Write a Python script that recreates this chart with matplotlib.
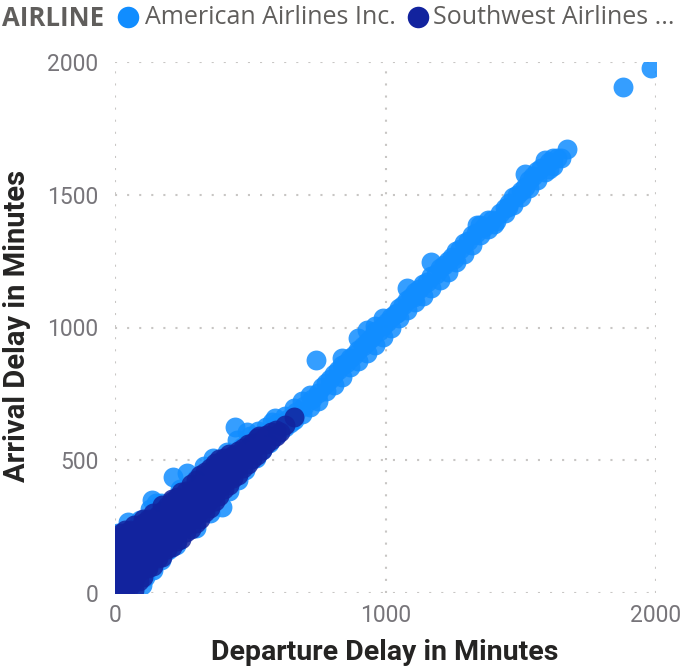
import matplotlib
matplotlib.use("Agg")
import matplotlib.pyplot as plt
from matplotlib.lines import Line2D

# values, each line of dep goes with the same line of arr
aa_dep = [10, 48, 93, 137, 215, 266, 363, 415, 444, 488, 452, 581,
          111, 196, 396, 456, 544, 648, 150, 300, 500,
          100, 140, 170, 225, 300, 350, 420, 480, 520, 570, 600,
          130, 170, 240, 310, 330, 470, 530, 560, 590,
          600, 600, 630, 630, 660, 660, 690, 690, 720, 720, 750, 750,
          780, 780, 810, 810, 840, 840, 840, 870, 870, 900, 900, 900,
          930, 930, 930, 960, 960, 960, 990, 990, 990, 1020, 1020, 1050, 1050,
          1080, 1080, 1080, 1110, 1110, 1140, 1140, 1170, 1170, 1170,
          1200, 1200, 1230, 1230, 1260, 1260, 1290, 1290, 1320, 1320,
          1350, 1350, 1380, 1380, 1410, 1440, 1440, 1470, 1470, 1500, 1500,
          1530, 1530, 1560, 1560, 1590, 1590, 1620, 1620, 1650,
          744, 1044, 1105, 1252, 1340, 1400, 1452, 1515, 1604, 1670, 1878, 1981,
          610, 640, 670, 700, 730, 765, 795, 825, 855, 885, 915, 945, 975,
          1005, 1035, 1065, 1095, 1125, 1155, 1185, 1215, 1245, 1275, 1305,
          1335, 1365, 1395, 1425, 1455, 1485, 1515, 1545, 1575, 1605, 1635]
aa_arr = [225, 267, 275, 351, 438, 453, 509, 532, 626, 608, 577, 645,
          60, 162, 325, 426, 540, 641, 340, 430, 590,
          30, 85, 125, 180, 245, 300, 385, 465, 510, 565, 600,
          315, 340, 390, 440, 480, 550, 610, 625, 660,
          610, 640, 625, 665, 650, 695, 675, 725, 700, 745, 725, 755,
          760, 790, 785, 825, 815, 860, 885, 850, 885, 875, 915, 960,
          905, 945, 990, 935, 985, 1005, 965, 1005, 1035, 1000, 1040, 1035, 1075,
          1065, 1105, 1150, 1095, 1135, 1120, 1165, 1150, 1195, 1245,
          1180, 1225, 1210, 1250, 1245, 1290, 1275, 1320, 1310, 1350,
          1350, 1385, 1370, 1405, 1400, 1430, 1450, 1460, 1490, 1490, 1515,
          1525, 1555, 1555, 1590, 1585, 1630, 1610, 1640, 1640,
          879, 1056, 1113, 1257, 1385, 1389, 1453, 1577, 1596, 1672, 1906, 1977,
          630, 655, 680, 705, 730, 775, 805, 840, 865, 895, 930, 960, 985,
          1020, 1050, 1085, 1115, 1145, 1170, 1200, 1235, 1265, 1295, 1325,
          1355, 1380, 1405, 1430, 1470, 1500, 1530, 1570, 1600, 1625, 1640]

wn_dep = [5, 5, 5, 5, 5, 5, 5,
          38, 38, 38, 38, 38, 38, 38, 38,
          72, 72, 72, 72, 72, 72, 72, 72,
          105, 105, 105, 105, 105, 105, 105, 105,
          140, 140, 140, 140, 140, 140, 140,
          175, 175, 175, 175, 175, 175, 175,
          210, 210, 210, 210, 210, 210, 210,
          245, 245, 245, 245, 245, 245,
          280, 280, 280, 280, 280, 280,
          315, 315, 315, 315, 315, 315,
          350, 350, 350, 350, 350, 350,
          385, 385, 385, 385, 385, 385,
          420, 420, 420, 420, 420,
          455, 455, 455, 455,
          490, 490, 490, 490,
          525, 525, 525,
          560, 560, 595, 595,
          533, 611, 630, 663,
          22, 22, 22, 22, 22, 22, 22,
          55, 55, 55, 55, 55, 55, 55,
          88, 88, 88, 88, 88, 88, 88,
          122, 122, 122, 122, 122, 122, 122,
          158, 158, 158, 158, 158, 158,
          192, 192, 192, 192, 192, 192,
          228, 228, 228, 228, 228, 228,
          262, 262, 262, 262, 262, 262,
          298, 298, 298, 298, 298, 298,
          332, 332, 332, 332, 332, 332,
          368, 368, 368, 368, 368, 368,
          402, 402, 402, 402, 402,
          438, 438, 438, 438,
          472, 472, 472, 472,
          508, 508, 508,
          542, 542, 578, 578]
wn_arr = [0, 35, 70, 105, 140, 175, 210,
          5, 40, 75, 110, 145, 180, 215, 236,
          12, 45, 80, 115, 150, 185, 220, 255,
          60, 92, 128, 160, 195, 230, 262, 278,
          100, 135, 170, 205, 240, 275, 300,
          135, 170, 205, 240, 275, 310, 332,
          175, 205, 240, 275, 310, 345, 355,
          205, 240, 275, 310, 345, 380,
          240, 275, 310, 345, 380, 410,
          280, 310, 345, 380, 415, 445,
          320, 350, 385, 420, 455, 470,
          365, 395, 425, 460, 490, 505,
          405, 435, 470, 505, 525,
          445, 475, 510, 535,
          485, 515, 545, 560,
          520, 555, 585,
          560, 595, 590, 615,
          592, 608, 634, 664,
          18, 52, 88, 122, 158, 192, 225,
          25, 60, 98, 132, 168, 202, 238,
          45, 78, 110, 145, 178, 212, 245,
          95, 110, 145, 178, 212, 248, 280,
          130, 152, 188, 222, 258, 292,
          165, 188, 222, 258, 292, 328,
          195, 222, 258, 292, 328, 360,
          228, 258, 292, 328, 362, 385,
          265, 292, 328, 362, 398, 425,
          305, 328, 362, 398, 432, 455,
          348, 372, 405, 440, 472, 490,
          390, 415, 450, 482, 510,
          432, 458, 490, 520,
          470, 500, 530, 548,
          505, 535, 565,
          540, 575, 578, 605]

x_ticks = [0, 1000, 2000]
y_ticks = [0, 500, 1000, 1500, 2000]
airlines = ["American Airlines Inc.", "Southwest Airlines ..."]

light = "#118DFF"
dark = "#12239E"
gray = "#605E5C"
W, H = 681, 670

plt.rcParams["font.family"] = ["Open Sans", "DejaVu Sans"]

fig = plt.figure(figsize=(W / 100, H / 100), dpi=100)
ax = fig.add_axes([115 / W, 1 - 593 / H, 541 / W, 531 / H])

ax.scatter(aa_dep, aa_arr, s=205, color=light, alpha=0.85, linewidths=0, zorder=3)
ax.scatter(wn_dep, wn_arr, s=205, color=dark, alpha=0.85, linewidths=0, zorder=4)

ax.set_xlim(0, 2000)
ax.set_ylim(0, 2000)
ax.set_xticks(x_ticks)
ax.set_yticks(y_ticks)
ax.grid(True, color="#C8C6C4", linewidth=1.5, linestyle=(0, (1, 4.8)))
ax.set_axisbelow(True)
for s in ax.spines.values():
    s.set_visible(False)
ax.tick_params(length=0, labelsize=16.5, labelcolor="#77757A", pad=12)
ax.tick_params(axis="x", pad=8)
for lab in ax.get_xticklabels() + ax.get_yticklabels():
    lab.set_family(["Roboto", "Open Sans"])

title_font = ["Roboto", "Open Sans"]
fig.text(385 / W, 1 - 652 / H, "Departure Delay in Minutes", ha="center", va="center",
         fontsize=20.5, fontweight="bold", color="#252423", family=title_font)
fig.text(17 / W, 1 - 326 / H, "Arrival Delay in Minutes", ha="center", va="center",
         rotation=90, fontsize=21, fontweight="bold", color="#252423", family=title_font)

# legend row on top
fig.text(2 / W, 1 - 18 / H, "AIRLINE", ha="left", va="center", fontsize=18.5,
         fontweight="bold", color=gray)
fig.add_artist(Line2D([128 / W], [1 - 17 / H], marker="o", markersize=15.5, color=light,
                      linestyle="none", markeredgewidth=0, transform=fig.transFigure))
fig.text(145 / W, 1 - 18 / H, airlines[0], ha="left", va="center", fontsize=18, color=gray)
fig.add_artist(Line2D([418 / W], [1 - 17 / H], marker="o", markersize=15.5, color=dark,
                      linestyle="none", markeredgewidth=0, transform=fig.transFigure))
fig.text(433 / W, 1 - 18 / H, airlines[1], ha="left", va="center", fontsize=18, color=gray)

fig.savefig("out.png", dpi=100)
